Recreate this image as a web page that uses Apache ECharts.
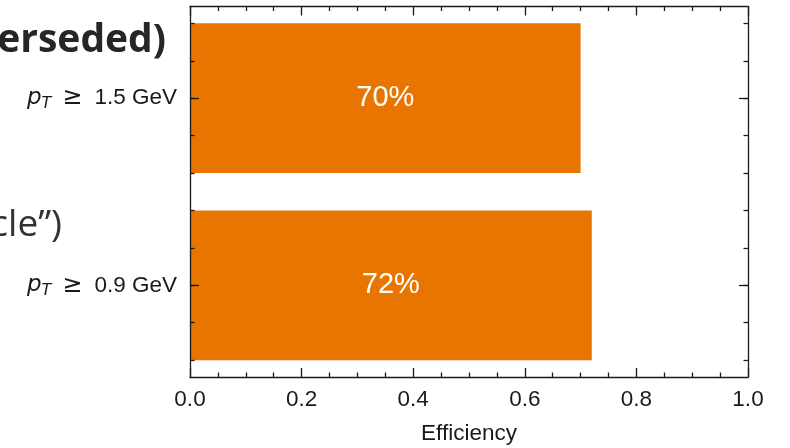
<!DOCTYPE html>
<html><head><meta charset="utf-8">
<script src="https://cdn.jsdelivr.net/npm/echarts@6/dist/echarts.min.js"></script>
<style>html,body{margin:0;padding:0;background:#fff}#c{width:790px;height:448px}</style>
</head><body><div id="c"></div>
<script>
// ---- data ----
const categories = ['0.9', '1.5'];      // pT thresholds in GeV, bottom to top
const efficiency = [0.72, 0.70];
const barLabels = ['72%', '70%'];
const xMin = 0, xMax = 1.0, xStep = 0.2;
const xTitle = 'Efficiency';
const bgTexts = ['erseded)', 'cle\u201d)'];

// ---- layout ----
const L = 190, R = 790 - 748, T = 6.5, Bpx = 377;
const yLo = -0.49, yHi = 1.49;
const ppu = (Bpx - T) / (yHi - yLo);
// category grid spans -0.5..1.5
const gA = { left: L, right: R, top: T - (1.5 - yHi) * ppu, bottom: 448 - (Bpx + (yLo + 0.5) * ppu) };
// minor tick grid spans -0.4..1.4
const gB = { left: L, right: R, top: T + (yHi - 1.4) * ppu, bottom: 448 - (Bpx - (-0.4 - yLo) * ppu) };
// frame grid
const gC = { left: L, right: R, top: T, bottom: 448 - Bpx };

const ink = '#1a1a1a', lw = 1.3;
const sans = '"Liberation Sans", Arial, sans-serif';
const AZ = 5;

const chart = echarts.init(document.getElementById('c'), null, { renderer: 'canvas' });
const hiddenLine = { show: false, onZero: false };
const frameLine = { show: true, onZero: false, lineStyle: { color: ink, width: lw } };
const gridBase = { outerBoundsMode: 'none', containLabel: false };
const tickStyle = { color: ink, width: lw };
chart.setOption({
  animation: false,
  backgroundColor: '#fff',
  grid: [
    Object.assign({}, gridBase, gA),
    Object.assign({}, gridBase, gB),
    Object.assign({}, gridBase, gC)
  ],
  xAxis: [
    { gridIndex: 2, type: 'value', position: 'bottom', min: xMin, max: xMax, interval: xStep, z: AZ,
      axisLine: frameLine, splitLine: { show: false },
      axisTick: { show: true, inside: true, length: 9, lineStyle: tickStyle },
      minorTick: { show: true, splitNumber: 4, length: 4.5, lineStyle: tickStyle },
      axisLabel: { margin: 11, color: ink, fontSize: 22.5, fontFamily: sans, formatter: v => v.toFixed(1) },
      name: xTitle, nameLocation: 'middle', nameGap: 45,
      nameTextStyle: { color: ink, fontSize: 22.5, fontFamily: sans } },
    { gridIndex: 2, type: 'value', position: 'top', min: xMin, max: xMax, interval: xStep, z: AZ,
      axisLine: frameLine, splitLine: { show: false }, axisLabel: { show: false },
      axisTick: { show: true, inside: true, length: 9, lineStyle: tickStyle },
      minorTick: { show: true, splitNumber: 4, length: 4.5, lineStyle: tickStyle } },
    { gridIndex: 0, type: 'value', min: xMin, max: xMax, show: false },
    { gridIndex: 1, type: 'value', min: xMin, max: xMax, show: false }
  ],
  yAxis: [
    { gridIndex: 0, type: 'category', data: categories, position: 'left', z: AZ,
      axisLine: hiddenLine, splitLine: { show: false },
      axisTick: { show: true, inside: true, alignWithLabel: true, length: 9, lineStyle: tickStyle },
      axisLabel: { margin: 13, color: ink,
        formatter: v => `{p|p}{t|T}{g|\u2265}{n|${v} GeV}`,
        rich: {
          p: { fontFamily: 'DejaVu Sans', fontStyle: 'italic', fontSize: 23, color: ink, lineHeight: 28, verticalAlign: 'middle' },
          t: { fontFamily: 'DejaVu Sans', fontStyle: 'italic', fontSize: 16, color: ink, lineHeight: 16, verticalAlign: 'bottom' },
          g: { fontFamily: 'DejaVu Sans', fontSize: 24, color: ink, padding: [0, 12, 0, 11], lineHeight: 28, verticalAlign: 'middle' },
          n: { fontFamily: sans, fontSize: 22.5, color: ink, lineHeight: 28, verticalAlign: 'middle' }
        } } },
    { gridIndex: 0, type: 'category', data: categories, position: 'right', z: AZ,
      axisLine: hiddenLine, splitLine: { show: false }, axisLabel: { show: false },
      axisTick: { show: true, inside: true, alignWithLabel: true, length: 9, lineStyle: tickStyle } },
    { gridIndex: 1, type: 'value', position: 'left', min: -0.4, max: 1.4, interval: 0.2, z: AZ,
      axisLine: hiddenLine, splitLine: { show: false }, axisLabel: { show: false },
      axisTick: { show: true, inside: true, length: 4.5, lineStyle: tickStyle } },
    { gridIndex: 1, type: 'value', position: 'right', min: -0.4, max: 1.4, interval: 0.2, z: AZ,
      axisLine: hiddenLine, splitLine: { show: false }, axisLabel: { show: false },
      axisTick: { show: true, inside: true, length: 4.5, lineStyle: tickStyle } },
    { gridIndex: 2, type: 'value', position: 'left', min: 0, max: 1, z: AZ,
      axisLine: frameLine, axisTick: { show: false }, axisLabel: { show: false }, splitLine: { show: false } },
    { gridIndex: 2, type: 'value', position: 'right', min: 0, max: 1, z: AZ,
      axisLine: frameLine, axisTick: { show: false }, axisLabel: { show: false }, splitLine: { show: false } }
  ],
  series: [{
    type: 'bar', xAxisIndex: 2, yAxisIndex: 0, data: efficiency, barWidth: '80%', z: 2,
    itemStyle: { color: '#e87500' },
    label: { show: true, position: 'inside', color: '#fff', fontSize: 29, fontFamily: sans,
      formatter: p => barLabels[p.dataIndex] }
  }],
  graphic: [
    { type: 'text', silent: true, z: 10,
      style: { text: bgTexts[0], x: 166, y: 41, align: 'right', verticalAlign: 'middle',
        font: 'bold 39px "Open Sans"', fill: '#262626' } },
    { type: 'text', silent: true, z: 10,
      style: { text: bgTexts[1], x: 62, y: 225, align: 'right', verticalAlign: 'middle',
        font: '37px "Open Sans"', fill: '#333333' } }
  ]
});
</script></body></html>
